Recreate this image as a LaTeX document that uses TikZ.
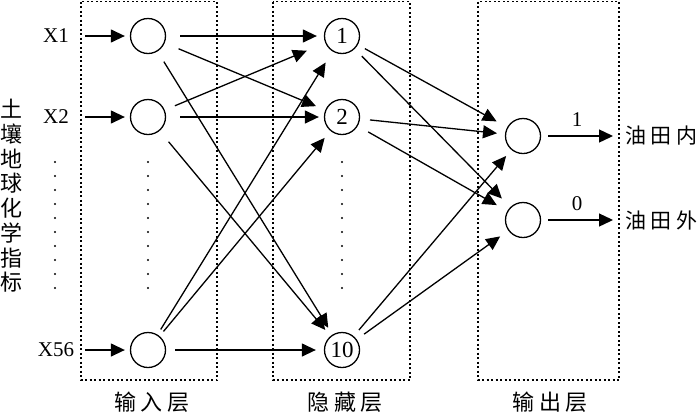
\documentclass[tikz,border=0pt]{standalone}
\usepackage{fontspec}
\setmainfont{Liberation Serif}
\newfontfamily\cjk{Noto Sans CJK SC}
\usetikzlibrary{arrows.meta}
\begin{document}
\begin{tikzpicture}[x=1pt,y=-1pt,
  neuron/.style={circle,draw,line width=1.3pt,minimum size=35pt,inner sep=0pt,font=\fontsize{23}{23}\selectfont},
  layerbox/.style={draw,line width=1.3pt,dash pattern=on 2pt off 2.5pt},
  conn/.style={-{Triangle[length=14pt,width=13pt]},line width=1.3pt},
  latin/.style={font=\fontsize{21}{21}\selectfont,inner sep=0pt},
  cjklabel/.style={font=\cjk\fontsize{22}{22}\selectfont,inner sep=0pt},
  sidelabel/.style={font=\cjk\fontsize{21}{21}\selectfont,inner sep=0pt},
  vdots/.style={line width=2.4pt,line cap=round,dash pattern=on 0pt off 14pt}]
\useasboundingbox (0,0) rectangle (700,413);

% layer boxes
\draw[layerbox] (81,1.5) rectangle (217,380);
\draw[layerbox] (273,1.5) rectangle (410,380);
\draw[layerbox] (478,1.5) rectangle (619,380);

% layer labels
\node[cjklabel] (lin) at (152,402) {输\hspace{5pt}入\hspace{5pt}层};
\node[cjklabel] (lhid) at (345,402) {隐\hspace{5pt}藏\hspace{5pt}层};
\node[cjklabel] (lout) at (550,402) {输\hspace{5pt}出\hspace{5pt}层};

% left vertical label
\node[font=\cjk\fontsize{22}{24.7}\selectfont,align=center,inner sep=0pt] (side) at (11,196)
  {土\\壤\\地\\球\\化\\学\\指\\标};

% input labels
\node[latin] (x1) at (56,36) {X1};
\node[latin] (x2) at (56,117) {X2};
\node[latin] (x56) at (56,350) {X56};
\coordinate (a1) at (85,36);
\coordinate (a2) at (85,117);
\coordinate (a3) at (85,350);

% neurons
\node[neuron] (i1) at (148,36) {};
\node[neuron] (i2) at (148,117) {};
\node[neuron] (i3) at (148,350) {};
\node[neuron] (h1) at (342,36) {1};
\node[neuron] (h2) at (342,117) {2};
\node[neuron] (h10) at (342,350) {10};
\node[neuron] (o1) at (523,136) {};
\node[neuron] (o2) at (523,220) {};

% dots
\draw[vdots] (55,162) -- (55,302);
\draw[vdots] (148,162) -- (148,302);
\draw[vdots] (342,162) -- (342,302);

% input arrows
\draw[conn,shorten >=5pt] (a1) -- (i1);
\draw[conn,shorten >=5pt] (a2) -- (i2);
\draw[conn,shorten >=5pt] (a3) -- (i3);

% input -> hidden
\foreach \a/\b/\s/\e in {i1/h1/14/7, i1/h2/15/10, i1/h10/12/8,
                         i2/h1/11/20, i2/h2/14/5, i2/h10/14/8,
                         i3/h1/6/13, i3/h2/6/9, i3/h10/9/8}
  \draw[conn,shorten <=\s pt,shorten >=\e pt] (\a) -- (\b);

% hidden -> output
\foreach \a/\b/\s/\e in {h1/o1/8/12, h1/o2/10/12, h2/o1/10/8,
                         h2/o2/12/12, h10/o1/8/8, h10/o2/9/10}
  \draw[conn,shorten <=\s pt,shorten >=\e pt] (\a) -- (\b);

% outputs
\coordinate (r1) at (613,136);
\coordinate (r2) at (613,220);
\draw[conn,shorten <=7pt] (o1) -- (r1) node[midway,above=9pt,latin] {1};
\draw[conn,shorten <=7pt] (o2) -- (r2) node[midway,above=9pt,latin] {0};
\node[sidelabel,anchor=west] (t1) at (625,136) {油\hspace{4.5pt}田\hspace{4.5pt}内};
\node[sidelabel,anchor=west] (t2) at (625,220) {油\hspace{4.5pt}田\hspace{4.5pt}外};
\end{tikzpicture}
\end{document}
